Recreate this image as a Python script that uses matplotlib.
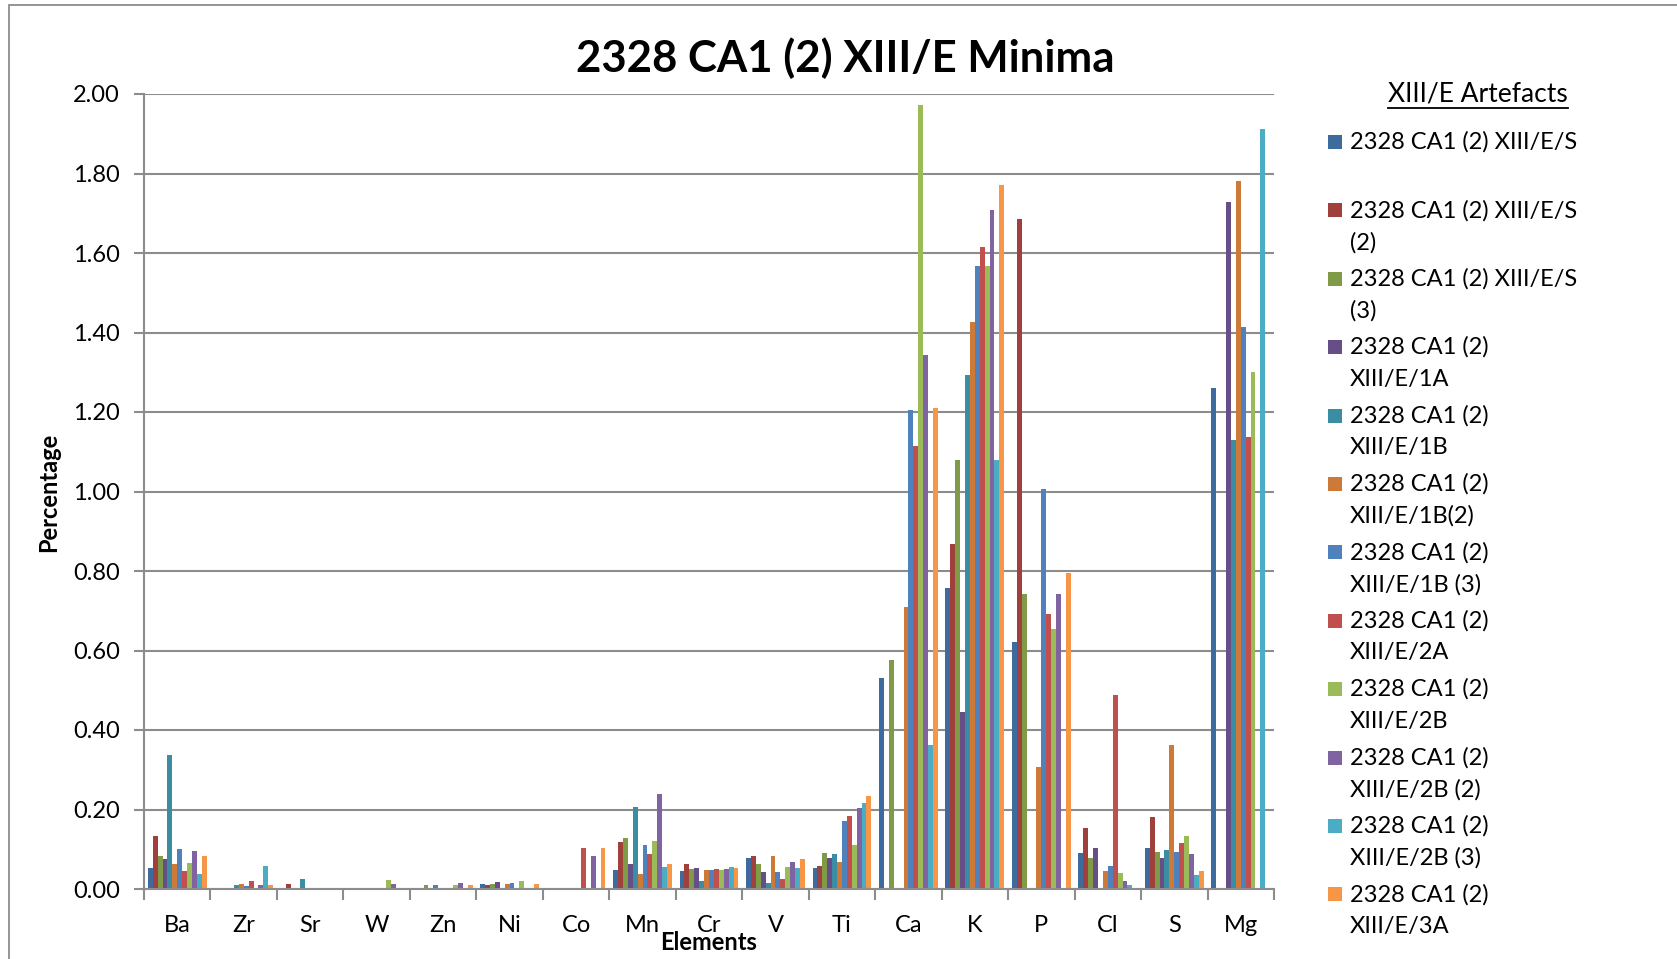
import textwrap
import numpy as np
import matplotlib
matplotlib.use("Agg")
import matplotlib.pyplot as plt
from matplotlib.patches import Rectangle
from matplotlib.lines import Line2D

plt.rcParams['font.family'] = ['Lato', 'DejaVu Sans']

# ---------------- data ----------------
elements = ["Ba", "Zr", "Sr", "W", "Zn", "Ni", "Co", "Mn", "Cr", "V", "Ti",
            "Ca", "K", "P", "Cl", "S", "Mg"]

series_names = [
    "2328 CA1 (2) XIII/E/S",
    "2328 CA1 (2) XIII/E/S (2)",
    "2328 CA1 (2) XIII/E/S (3)",
    "2328 CA1 (2) XIII/E/1A",
    "2328 CA1 (2) XIII/E/1B",
    "2328 CA1 (2) XIII/E/1B(2)",
    "2328 CA1 (2) XIII/E/1B (3)",
    "2328 CA1 (2) XIII/E/2A",
    "2328 CA1 (2) XIII/E/2B",
    "2328 CA1 (2) XIII/E/2B (2)",
    "2328 CA1 (2) XIII/E/2B (3)",
    "2328 CA1 (2) XIII/E/3A",
]

colors = ["#3E6B9E", "#A0403D", "#7F9B48", "#664E86", "#3B8DA4", "#CD7A38",
          "#4F81BD", "#C0504D", "#9BBB59", "#8064A2", "#4BACC6", "#F79646"]

# values per element, one per series (in series order above)
ba = [0.054, 0.134, 0.082, 0.076, 0.337, 0.062, 0.101, 0.045, 0.066, 0.096, 0.038, 0.084]
zr = [0, 0, 0, 0, 0.010, 0.013, 0.008, 0.021, 0, 0.010, 0.057, 0.010]
sr = [0, 0.013, 0, 0, 0.026, 0, 0, 0, 0, 0, 0, 0]
w = [0, 0, 0, 0, 0, 0, 0, 0, 0.023, 0.012, 0, 0]
zn = [0, 0, 0.009, 0, 0.009, 0, 0, 0, 0.009, 0.016, 0, 0.011]
ni = [0.012, 0.009, 0.013, 0.018, 0, 0.012, 0.016, 0, 0.021, 0, 0, 0.012]
co = [0, 0, 0, 0, 0, 0, 0, 0.102, 0, 0.083, 0, 0.102]
mn = [0.047, 0.117, 0.129, 0.062, 0.207, 0.037, 0.110, 0.088, 0.122, 0.239, 0.056, 0.063]
cr = [0.046, 0.062, 0.051, 0.053, 0.021, 0.048, 0.048, 0.050, 0.047, 0.051, 0.055, 0.052]
v = [0.079, 0.084, 0.063, 0.044, 0.016, 0.082, 0.044, 0.026, 0.056, 0.067, 0.054, 0.075]
ti = [0.054, 0.059, 0.091, 0.077, 0.089, 0.067, 0.171, 0.183, 0.110, 0.203, 0.216, 0.234]
ca = [0.532, 0, 0.575, 0, 0, 0.709, 1.206, 1.115, 1.972, 1.344, 0.362, 1.209]
k = [0.756, 0.868, 1.080, 0.446, 1.292, 1.427, 1.568, 1.615, 1.568, 1.707, 1.080, 1.772]
p = [0.622, 1.685, 0.742, 0, 0, 0.307, 1.007, 0.692, 0.655, 0.743, 0, 0.796]
cl = [0.091, 0.153, 0.077, 0.104, 0, 0.046, 0.059, 0.489, 0.041, 0.019, 0.010, 0]
s = [0.104, 0.182, 0.094, 0.077, 0.099, 0.362, 0.094, 0.116, 0.133, 0.088, 0.036, 0.046]
mg = [1.261, 0, 0, 1.729, 1.130, 1.780, 1.413, 1.138, 1.300, 0, 1.913, 0]

yticks = [0.0, 0.2, 0.4, 0.6, 0.8, 1.0, 1.2, 1.4, 1.6, 1.8, 2.0]

values = np.array([ba, zr, sr, w, zn, ni, co, mn, cr, v, ti, ca, k, p, cl, s, mg])  # elements x series

# ---------------- figure ----------------
W, H = 1677, 959
fig = plt.figure(figsize=(W / 100, H / 100), dpi=100)
fig.patch.set_facecolor("white")

# chart border
fig.add_artist(Rectangle((9 / W, -0.02), 1.05, 1 - 5 / H + 0.02, transform=fig.transFigure,
                         fill=False, edgecolor="#8C8C8C", linewidth=1.3, clip_on=False))

ax = fig.add_axes([144 / W, 1 - 889 / H, (1274 - 144) / W, (889 - 94) / H])

grid_c = "#8C8C8C"
n_ser = len(series_names)
x = np.arange(len(elements))
group_w = 0.885
bw = group_w / n_ser
for i in range(n_ser):
    offs = -group_w / 2 + bw * (i + 0.5)
    ax.bar(x + offs, values[:, i], width=bw, color=colors[i], linewidth=0, zorder=3)

ax.set_xlim(-0.5, len(elements) - 0.5)
ax.set_ylim(0, 2.0)
ax.set_yticks(yticks)
ax.set_yticklabels([f"{t:.2f}" for t in yticks], fontsize=17)
ax.set_xticks(x)
ax.set_xticklabels(elements, fontsize=17)
ax.set_xticks(np.arange(-0.5, len(elements)), minor=True)
ax.tick_params(axis="x", which="major", length=0, pad=18.5)
ax.tick_params(axis="x", which="minor", length=8, width=1.5, color=grid_c)
ax.tick_params(axis="y", which="major", length=7, width=1.5, color=grid_c, pad=10.5)

ax.grid(axis="y", color=grid_c, linewidth=1.5, zorder=0)
for sp in ["top", "right"]:
    ax.spines[sp].set_visible(False)
for sp in ["left", "bottom"]:
    ax.spines[sp].set_color(grid_c)
    ax.spines[sp].set_linewidth(1.5)
    ax.spines[sp].set_zorder(4)

# title and axis labels
fig.text(845 / W, 1 - 58 / H, "2328 CA1 (2) XIII/E Minima", ha="center", va="center",
         fontsize=31.5, fontweight="bold")
fig.text(709 / W, 1 - 943 / H, "Elements", ha="center", va="center",
         fontsize=17, fontweight="bold")
fig.text(49 / W, 1 - 492 / H, "Percentage", ha="center", va="center", rotation=90,
         fontsize=17, fontweight="bold")

# legend (manual, Excel-style wrapped entries)
lt = fig.text(1382 * 1.0695 / W, 1 - 94 / H, "XIII/E Artefacts", ha="center", va="center",
              fontsize=19)
fig.canvas.draw()
bb = lt.get_window_extent(fig.canvas.get_renderer())
uy = (bb.y0 - 1) / H
fig.add_artist(Line2D([bb.x0 / W, bb.x1 / W], [uy, uy], transform=fig.transFigure,
                      color="black", linewidth=1.3))

first_y = 142
step = 68.4
line_gap = 32
for i, (name, c) in enumerate(zip(series_names, colors)):
    y0 = first_y + step * i
    fig.add_artist(Rectangle((1328 / W, 1 - (y0 + 7) / H), 14 / W, 14 / H,
                             transform=fig.transFigure, facecolor=c, edgecolor="none"))
    for j, line in enumerate(textwrap.wrap(name, 21)):
        fig.text(1350 / W, 1 - (y0 + j * line_gap) / H, line, ha="left", va="center",
                 fontsize=17)

fig.savefig("out.png", dpi=100)
